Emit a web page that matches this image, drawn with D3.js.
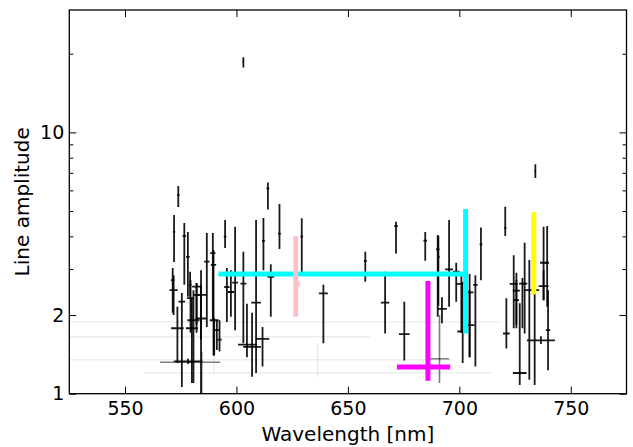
<!DOCTYPE html>
<html>
<head>
<meta charset="utf-8">
<script src="https://cdn.jsdelivr.net/npm/d3@7"></script>
<style>
    body { margin: 0; background: #fff; }
    svg { display: block; }
    text { font-family: "DejaVu Sans", sans-serif; fill: #000; }
</style>
</head>
<body>
<svg width="633" height="447"></svg>
<script>
// rows: [wavelength, amplitude, amplitude low, amplitude high, wavelength error]
const blackBars = [
    [573.9, 5.76, 5.18, 6.23, 0.5], [572.0, 4.16, 3.19, 4.83, 0.5],
    [571.4, 2.72, 2.04, 3.03, 0.8], [571.8, 2.49, 2.00, 2.84, 1.8],
    [575.5, 2.25, 1.06, 2.43, 1.5], [573.5, 1.78, 1.31, 2.15, 2.8],
    [576.6, 4.02, 2.61, 4.50, 0.8], [578.2, 3.34, 2.35, 4.16, 0.8],
    [579.2, 2.61, 2.35, 2.93, 0.6], [579.4, 2.32, 1.71, 2.72, 1.6],
    [580.0, 1.78, 1.10, 2.32, 2.7], [580.7, 1.91, 1.10, 2.49, 2.7],
    [582.1, 2.57, 1.71, 2.65, 2.0], [582.1, 2.39, 1.83, 2.65, 1.5],
    [584.1, 2.39, 1.61, 2.97, 2.6], [584.1, 1.94, 1.00, 2.61, 2.4],
    [586.7, 3.20, 1.80, 4.12, 1.2], [589.4, 3.45, 1.91, 4.12, 1.2],
    [589.7, 3.11, 1.40, 3.55, 1.2], [590.0, 1.91, 1.40, 1.95, 2.0],
    [591.2, 1.75, 1.47, 1.91, 1.4], [592.4, 1.61, 1.45, 1.91, 1.0],
    [594.9, 3.99, 3.61, 4.62, 0.6], [595.7, 2.56, 1.88, 3.03, 1.2],
    [597.5, 2.45, 1.97, 2.97, 1.5], [599.4, 2.66, 1.75, 4.35, 1.3],
    [603.1, 2.64, 1.56, 3.49, 1.3], [604.7, 1.54, 1.38, 2.21, 4.0],
    [607.0, 1.51, 1.16, 2.04, 4.0], [608.8, 2.23, 1.20, 4.62, 2.2],
    [611.7, 1.62, 1.27, 1.80, 3.0], [612.1, 3.84, 2.97, 4.70, 0.6],
    [614.1, 6.10, 5.07, 6.43, 0.6], [615.4, 2.80, 1.97, 3.13, 1.5],
    [619.3, 4.10, 3.58, 5.32, 0.6], [603.1, 18.7, 17.7, 19.4, 0.3],
    [629.3, 3.99, 2.84, 4.69, 0.6], [639.0, 2.42, 1.56, 2.61, 2.0],
    [657.8, 3.22, 2.68, 3.49, 0.6], [666.7, 2.23, 1.70, 2.93, 1.9],
    [671.6, 4.38, 3.44, 4.55, 0.8], [675.3, 1.69, 1.34, 2.25, 2.4],
    [684.7, 3.85, 3.23, 4.16, 0.8], [690.3, 3.57, 1.97, 4.05, 0.8],
    [690.6, 3.34, 2.17, 4.01, 0.6], [692.2, 2.11, 1.86, 2.34, 2.2],
    [695.4, 2.99, 2.15, 4.62, 1.8], [698.6, 2.93, 2.25, 3.17, 1.5],
    [700.9, 2.63, 1.71, 2.84, 2.4], [701.5, 1.73, 1.31, 2.68, 2.4],
    [704.6, 2.44, 1.38, 2.87, 1.8], [704.6, 1.83, 1.38, 2.49, 2.2],
    [707.2, 2.61, 1.27, 2.84, 1.0], [709.7, 3.73, 2.72, 4.33, 0.6],
    [720.6, 4.30, 4.01, 5.19, 0.5], [721.1, 1.70, 1.49, 2.32, 1.5],
    [724.4, 2.63, 1.78, 3.39, 1.8], [725.6, 2.48, 1.78, 2.90, 1.6],
    [725.6, 2.28, 1.83, 2.72, 1.2], [727.1, 1.20, 1.08, 2.22, 3.1],
    [728.3, 2.64, 1.78, 2.77, 1.5], [729.3, 2.64, 1.70, 3.78, 1.2],
    [731.4, 2.49, 1.13, 3.25, 2.5], [733.8, 2.49, 1.08, 3.15, 2.0],
    [736.6, 1.60, 1.55, 1.66, 6.3], [739.8, 1.75, 1.23, 2.49, 1.0],
    [737.8, 3.17, 2.28, 4.35, 1.6], [737.8, 2.58, 2.28, 2.97, 2.2],
    [739.4, 3.17, 2.15, 4.38, 0.8], [734.1, 7.11, 6.69, 7.56, 0.3],
    [578.3, 1.33, 1.30, 1.36, 6.4]
];

const grayBars = [
    [579.2, 1.32, 1.31, 1.33, 13.5],
    [584.4, 1.32, 0.80, 1.45, 0.3],
    [691.1, 1.36, 1.10, 2.00, 4.3]
];

const faintBars = [
    [612.0, 1.88, 1.87, 1.89, 106],
    [590.0, 1.65, 1.20, 1.68, 70],
    [605.0, 1.35, 1.345, 1.355, 92],
    [636.4, 1.20, 1.16, 1.56, 78]
];

// rows: [wavelength, amplitude, wavelength low, wavelength high, amplitude low, amplitude high]
const highlightBars = [
    [702.8, 2.87, 591.9, 702.8, 1.70, 5.09],
    [626.6, 2.63, 626.1, 628.4, 1.97, 4.00],
    [685.9, 1.265, 672.0, 695.9, 1.12, 2.70],
    [733.4, 3.30, 733.4, 733.4, 2.40, 4.96]
];
const highlightColors = ["#00ffff", "#ffc0cb", "#ff00ff", "#ffff00"];

const xTicks = [550, 600, 650, 700, 750];
const yMajor = [1, 2, 10];
const yMinor = [3, 4, 5, 6, 7, 8, 9, 20];

const plotLeft = 69.3, plotRight = 626.5, plotTop = 10, plotBottom = 393.7;

let svg = d3.select("svg");
let x = d3.scaleLinear().domain([525, 775]).range([plotLeft, plotRight]);
let y = d3.scaleLog().domain([1, 29.4]).range([plotBottom, plotTop]);

svg.append("defs").append("clipPath").attr("id", "plot")
    .append("rect")
    .attr("x", plotLeft).attr("y", plotTop)
    .attr("width", plotRight - plotLeft).attr("height", plotBottom - plotTop);

let plot = svg.append("g").attr("clip-path", "url(#plot)");

function drawBars(rows, color, opacity, width) {
    let g = plot.append("g")
        .attr("stroke", color)
        .attr("stroke-opacity", opacity)
        .attr("stroke-width", width);
    g.selectAll(".v").data(rows).enter().append("line")
        .attr("x1", d => x(d[0])).attr("x2", d => x(d[0]))
        .attr("y1", d => y(d[2])).attr("y2", d => y(d[3]));
    g.selectAll(".h").data(rows).enter().append("line")
        .attr("x1", d => x(d[0] - d[4])).attr("x2", d => x(d[0] + d[4]))
        .attr("y1", d => y(d[1])).attr("y2", d => y(d[1]));
}

drawBars(faintBars, "#000", 0.07, 1.5);
drawBars(grayBars, "#000", 0.5, 1.6);
drawBars(blackBars, "#000", 0.9, 1.8);

let hl = plot.append("g").attr("stroke-width", 5);
highlightBars.forEach((d, i) => {
    let c = highlightColors[i];
    hl.append("line")
        .attr("stroke", c)
        .attr("x1", x(d[0])).attr("x2", x(d[0]))
        .attr("y1", y(d[4])).attr("y2", y(d[5]));
    if (d[3] > d[2]) {
        hl.append("line")
            .attr("stroke", c)
            .attr("x1", x(d[2])).attr("x2", x(d[3]))
            .attr("y1", y(d[1])).attr("y2", y(d[1]));
    }
});

// axes, ticks pointing inward on all four sides
function styleAxis(g) {
    g.select(".domain").remove();
    g.selectAll("line").attr("stroke", "#000").attr("stroke-width", 1);
    g.selectAll("text").style("font-size", "19px");
}

svg.append("g").attr("transform", `translate(0,${plotBottom})`)
    .call(d3.axisBottom(x).tickValues(xTicks).tickSizeInner(-7).tickSizeOuter(0).tickPadding(8))
    .call(styleAxis);
svg.append("g").attr("transform", `translate(0,${plotTop})`)
    .call(d3.axisTop(x).tickValues(xTicks).tickSizeInner(-7).tickSizeOuter(0).tickFormat(""))
    .call(styleAxis);
svg.append("g").attr("transform", `translate(${plotLeft},0)`)
    .call(d3.axisLeft(y).tickValues(yMajor).tickSizeInner(-7).tickSizeOuter(0).tickPadding(5).tickFormat(d3.format("d")))
    .call(styleAxis);
svg.append("g").attr("transform", `translate(${plotLeft},0)`)
    .call(d3.axisLeft(y).tickValues(yMinor).tickSizeInner(-4).tickSizeOuter(0).tickFormat(""))
    .call(styleAxis);
svg.append("g").attr("transform", `translate(${plotRight},0)`)
    .call(d3.axisRight(y).tickValues(yMajor).tickSizeInner(-7).tickSizeOuter(0).tickFormat(""))
    .call(styleAxis);
svg.append("g").attr("transform", `translate(${plotRight},0)`)
    .call(d3.axisRight(y).tickValues(yMinor).tickSizeInner(-4).tickSizeOuter(0).tickFormat(""))
    .call(styleAxis);

svg.append("rect")
    .attr("x", plotLeft).attr("y", plotTop)
    .attr("width", plotRight - plotLeft).attr("height", plotBottom - plotTop)
    .attr("fill", "none").attr("stroke", "#000").attr("stroke-width", 1.3);

svg.append("text")
    .attr("x", (plotLeft + plotRight) / 2).attr("y", 441)
    .attr("text-anchor", "middle")
    .style("font-size", "20px")
    .text("Wavelength [nm]");

svg.append("text")
    .attr("transform", `translate(29,${(plotTop + plotBottom) / 2}) rotate(-90)`)
    .attr("text-anchor", "middle")
    .style("font-size", "20px")
    .text("Line amplitude");
</script>
</body>
</html>
